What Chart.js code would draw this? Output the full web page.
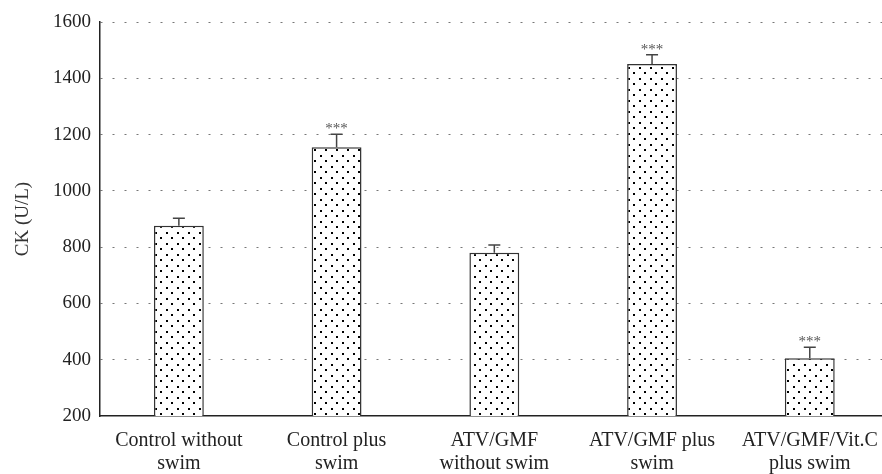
<!DOCTYPE html>
<html>
<head>
<meta charset="utf-8">
<script src="https://cdn.jsdelivr.net/npm/chart.js@4.4.0/dist/chart.umd.min.js"></script>
<style>
  html, body { margin: 0; padding: 0; background: #fff; overflow: hidden; }
  #wrap { width: 882px; height: 474px; overflow: hidden; }
</style>
</head>
<body>
<div id="wrap">
  <canvas id="ckChart" width="892" height="474"></canvas>
</div>
<script>
// chart data
const categories = [
  ['Control without', 'swim'],
  ['Control plus', 'swim'],
  ['ATV/GMF', 'without swim'],
  ['ATV/GMF plus', 'swim'],
  ['ATV/GMF/Vit.C', 'plus swim']
];
const ckMeans = [876, 1155, 780, 1451, 405];
const ckErrors = [27, 46, 28, 33, 39];
const significance = ['', '***', '', '***', '***'];
const yTicks = [200, 400, 600, 800, 1000, 1200, 1400, 1600];

const serif = '"Liberation Serif", "DejaVu Serif", serif';

// dotted fill for the bars
function dotPattern() {
  const c = document.createElement('canvas');
  c.width = 11;
  c.height = 11;
  const g = c.getContext('2d');
  g.fillStyle = '#fff';
  g.fillRect(0, 0, 11, 11);
  g.fillStyle = '#000';
  g.fillRect(1, 1, 2, 2);
  g.fillRect(6, 6, 2, 2);
  return g.createPattern(c, 'repeat');
}

// error bars + significance stars
const errorBars = {
  id: 'errorBars',
  afterDatasetsDraw(chart) {
    const ctx = chart.ctx;
    const y = chart.scales.y;
    const meta = chart.getDatasetMeta(0);
    ctx.save();
    meta.data.forEach(function (bar, i) {
      const top = y.getPixelForValue(ckMeans[i] + ckErrors[i]);
      const base = y.getPixelForValue(ckMeans[i]);
      ctx.strokeStyle = '#444';
      ctx.lineWidth = 1.5;
      ctx.beginPath();
      ctx.moveTo(bar.x, base);
      ctx.lineTo(bar.x, top);
      ctx.moveTo(bar.x - 6, top);
      ctx.lineTo(bar.x + 6, top);
      ctx.stroke();
      if (significance[i]) {
        ctx.fillStyle = '#555';
        ctx.font = '15px ' + serif;
        ctx.textAlign = 'center';
        ctx.textBaseline = 'alphabetic';
        ctx.fillText(significance[i], bar.x, top - 1);
      }
    });
    ctx.restore();
  }
};

document.addEventListener('DOMContentLoaded', function () {
  const ctx = document.getElementById('ckChart').getContext('2d');

  new Chart(ctx, {
    type: 'bar',
    data: {
      labels: categories,
      datasets: [{
        label: 'CK',
        data: ckMeans,
        backgroundColor: dotPattern(),
        borderColor: '#333',
        borderWidth: 1.5,
        categoryPercentage: 1,
        barPercentage: 0.316
      }]
    },
    options: {
      responsive: false,
      animation: false,
      layout: { padding: { top: 22, right: 2, left: 12, bottom: 0 } },
      plugins: {
        legend: { display: false },
        tooltip: { enabled: false }
      },
      scales: {
        x: {
          grid: { display: false, drawTicks: false },
          border: { display: true, color: '#222', width: 1.5 },
          ticks: {
            color: '#222',
            padding: 14,
            maxRotation: 0,
            autoSkip: false,
            font: { family: serif, size: 20, lineHeight: 1.12 }
          },
          afterFit: function (axis) { axis.height = 58; }
        },
        y: {
          min: 200,
          max: 1600,
          afterBuildTicks: function (axis) {
            axis.ticks = yTicks.map(function (v) { return { value: v }; });
          },
          grid: {
            drawTicks: false,
            lineWidth: 1,
            color: function (c) {
              return c.tick && c.tick.value === 200 ? 'rgba(0,0,0,0)' : '#777';
            }
          },
          border: { display: true, color: '#222', width: 1.5, dash: [2, 10] },
          ticks: {
            color: '#222',
            padding: 9,
            font: { family: serif, size: 19 },
            callback: function (v) { return String(v); }
          },
          title: {
            display: true,
            text: 'CK (U/L)',
            color: '#333',
            padding: { top: 0, bottom: 0 },
            font: { family: serif, size: 19 }
          },
          afterFit: function (axis) { axis.width = 88; }
        }
      }
    },
    plugins: [errorBars]
  });
});
</script>
</body>
</html>
